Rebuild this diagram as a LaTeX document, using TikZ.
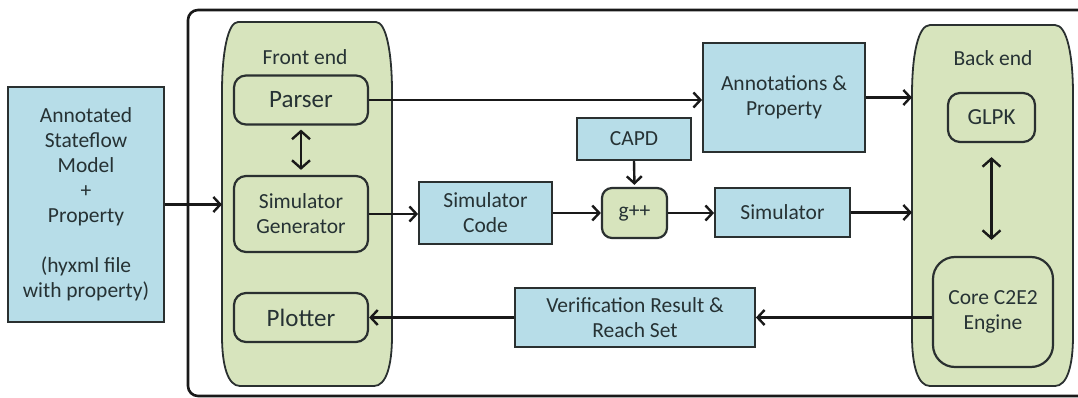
\documentclass[tikz,border=0pt]{standalone}
\usepackage{fontspec}
\setmainfont{Carlito}
\usetikzlibrary{arrows.meta,calc}
\definecolor{bluefill}{HTML}{B7DDE8}
\definecolor{greenfill}{HTML}{D7E4BD}
\definecolor{txt}{HTML}{263234}
\definecolor{edge}{HTML}{2A3030}
\tikzset{
  bluebox/.style={draw=edge, line width=1.8pt, fill=bluefill, text=txt, align=center, inner sep=0pt,
    font=\fontsize{21.5}{25}\selectfont},
  greenbox/.style={draw=edge, line width=2.2pt, fill=greenfill, rounded corners=12pt, text=txt, align=center, inner sep=0pt,
    font=\fontsize{21.5}{25}\selectfont},
  bigtext/.style={font=\fontsize{25}{30}\selectfont},
  lbl/.style={text=txt, font=\fontsize{21.5}{25}\selectfont, inner sep=0pt},
  conn/.style={line width=2.4pt, draw=black!90, -{Straight Barb[length=7pt,width=15pt,line width=2.4pt]}},
  dconn/.style={line width=2.4pt, draw=black!90, {Straight Barb[length=8pt,width=18pt,line width=2.4pt]}-{Straight Barb[length=8pt,width=18pt,line width=2.4pt]}},
  bigshape/.style={draw=edge, line width=1.8pt, fill=greenfill},
}
\begin{document}
\begin{tikzpicture}[x=1pt,y=-1pt]
\useasboundingbox (0,0) rectangle (1078,398);
% outer frame
\draw[line width=2.6pt, black!90, rounded corners=10pt] (1090,10) -- (188,10) -- (188,396) -- (1090,396);
% front end shape
\def\L{222}\def\R{392}\def\T{22}\def\B{386}
\draw[bigshape] (\L+16,\T) -- (\R-16,\T) .. controls (\R-6,\T) and (\R,\T+30) .. (\R,\T+70)
  -- (\R,\B-50) .. controls (\R,\B-20) and (\R-6,\B) .. (\R-18,\B)
  -- (\L+18,\B) .. controls (\L+6,\B) and (\L,\B-20) .. (\L,\B-50)
  -- (\L,\T+70) .. controls (\L,\T+30) and (\L+6,\T) .. (\L+16,\T) -- cycle;
\coordinate (fe-w) at (\L,204.5);
% back end shape
\def\L{912}\def\R{1073}\def\T{25}\def\B{386}
\draw[bigshape] (\L+18,\T) -- (\R-18,\T) .. controls (\R-6,\T) and (\R,\T+30) .. (\R,\T+70)
  -- (\R,\B-50) .. controls (\R,\B-20) and (\R-6,\B) .. (\R-18,\B)
  -- (\L+18,\B) .. controls (\L+6,\B) and (\L,\B-20) .. (\L,\B-50)
  -- (\L,\T+70) .. controls (\L,\T+30) and (\L+6,\T) .. (\L+18,\T) -- cycle;
\coordinate (be-a) at (\L,97.5);
\coordinate (be-s) at (\L,212.5);
% labels
\node[lbl] (felbl) at (305,57) {Front end};
\node[lbl] (belbl) at (993,58) {Back end};
% nodes
\node[bluebox, minimum width=156pt, minimum height=235pt] (model) at (86,204.5)
  {Annotated\\Stateflow\\Model\\+\\Property\\[25pt](hyxml file\\with property)};
\node[greenbox, bigtext, minimum width=134pt, minimum height=49pt] (parser) at (301,100) {Parser};
\node[greenbox, minimum width=134pt, minimum height=76pt] (simgen) at (301,214) {Simulator\\Generator};
\node[greenbox, bigtext, minimum width=134pt, minimum height=49pt] (plotter) at (301,317.5) {Plotter};
\node[bluebox, minimum width=133pt, minimum height=62pt] (simcode) at (485.5,213) {Simulator\\Code};
\node[bluebox, minimum width=162pt, minimum height=109pt] (annot) at (784,97.5) {Annotations \&\\Property};
\node[bluebox, minimum width=114pt, minimum height=42pt] (capd) at (634,139) {CAPD};
\node[greenbox, minimum width=65pt, minimum height=50pt, rounded corners=10pt] (gpp) at (634.5,213) {g++};
\node[bluebox, minimum width=135pt, minimum height=49pt] (simulator) at (782.5,212.5) {Simulator};
\node[greenbox, font=\fontsize{23}{27}\selectfont, minimum width=87pt, minimum height=49pt] (glpk) at (991.5,117.5) {GLPK};
\node[greenbox, rounded corners=22pt, minimum width=120pt, minimum height=110pt] (core) at (993,312) {Core C2E2\\Engine};
\node[bluebox, minimum width=240pt, minimum height=59pt] (verif) at (635,317.5) {Verification Result \&\\Reach Set};
% connectors
\draw[conn] (model.east) -- (fe-w);
\draw[dconn, shorten <=4pt, shorten >=5pt] (parser.south) -- (simgen.north);
\draw[conn] (parser.east) -- (parser.east -| annot.west);
\draw[conn] (annot.east) -- (be-a);
\draw[conn] (simgen.east) -- (simgen.east -| simcode.west);
\draw[conn] (simcode.east) -- (gpp.west);
\draw[conn, shorten >=2pt] (capd.south) -- (gpp.north);
\draw[conn] (gpp.east) -- (gpp.east -| simulator.west);
\draw[conn] (simulator.east) -- (be-s);
\draw[dconn, shorten <=14pt, shorten >=16pt] (glpk.south) -- (glpk.south |- core.north);
\draw[conn] (verif.east -| core.west) -- (verif.east);
\draw[conn] (verif.west) -- (verif.west -| plotter.east);
\end{tikzpicture}
\end{document}
